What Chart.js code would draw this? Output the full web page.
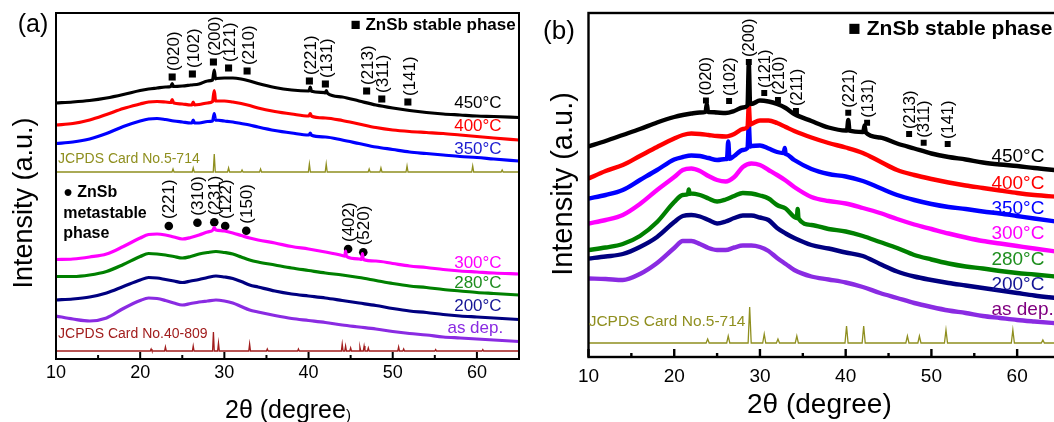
<!DOCTYPE html>
<html>
<head>
<meta charset="utf-8">
<title>ZnSb XRD patterns</title>
<script src="https://cdn.jsdelivr.net/npm/chart.js@4"></script>
<style>
  html, body { margin: 0; padding: 0; background: #fff; width: 1054px; height: 422px; overflow: hidden; }
  .panel { position: absolute; top: 0; }
  #wrapA { left: 0; }
  #wrapB { left: 530px; }
</style>
</head>
<body>
<div class="panel" id="wrapA"><canvas id="chartA" width="530" height="422"></canvas></div>
<div class="panel" id="wrapB"><canvas id="chartB" width="560" height="422"></canvas></div>
<script>
const FONT = "'Liberation Sans', Arial, Helvetica, sans-serif";

// shared 2theta grid (degree) the patterns were read on
const twoTheta = [10, 12, 14, 16, 18, 20, 21, 22, 23, 24, 25, 26, 27, 28, 29, 30, 31, 32, 33, 34,
                  36, 38, 40, 42, 44, 46, 48, 50, 52, 54, 56, 58, 60, 62, 65];
const xTicks = [10, 20, 30, 40, 50, 60];
const xMinor = [15, 25, 35, 45, 55, 65];

// ---- panel (a): intensity, stacked (a.u.) ----
const a450 = [256, 257, 258.5, 261, 264.5, 268.5, 270, 271, 272, 272.5, 273, 274, 275, 278, 280.5, 281, 281, 280, 278, 275.5,
              271.5, 269, 268, 266, 262, 258, 254, 251, 248.5, 246.5, 245, 244, 243, 242.5, 241.5];
const a450Peaks = [[23.65, 272.5], [23.8, 275.5], [23.95, 272.5], [28.6, 279], [28.8, 289], [28.95, 280],
                   [40.05, 268], [40.2, 272], [40.35, 267.8], [41.95, 266.4], [42.1, 268.5], [42.25, 265.8]];
const a400 = [234, 235.5, 239, 244.5, 250.5, 255, 257, 257.5, 257, 256, 255, 254, 254.5, 256, 258, 258, 257, 255.5, 253.5, 251,
              247.5, 245, 243, 241, 238.5, 235, 231.5, 229, 227.5, 226.5, 225.5, 224, 222.5, 221, 219];
const a400Peaks = [[23.65, 256.5], [23.8, 259.5], [23.95, 256.3], [26.15, 254], [26.3, 257], [26.45, 254.2],
                   [28.6, 257.5], [28.8, 268.5], [28.95, 258.2], [40.05, 243], [40.2, 245.5], [40.35, 242.8]];
const a350 = [215.5, 217, 220, 225.5, 232.5, 238, 240, 240.5, 239.5, 238, 237, 236, 236, 237.5, 239, 238, 237, 235.5, 234, 232,
              228.5, 226, 224, 222, 219, 215.5, 212, 209.5, 207, 205.5, 204, 202.5, 201.5, 200, 198];
const a350Peaks = [[26.15, 236], [26.3, 239], [26.45, 236], [28.6, 238], [28.8, 245.5], [28.95, 238.8],
                   [40.05, 224], [40.2, 226], [40.35, 223.8]];
const a300 = [99.5, 100, 102, 105, 112.5, 121, 124.5, 125, 124, 122, 120, 121.5, 124, 127, 129, 128, 126, 123.5, 121, 119,
              116, 112.5, 110, 107, 103.5, 100, 98, 95.5, 93, 91.5, 89.5, 88, 87, 86, 85];
const a300Peaks = [[28.65, 129], [28.8, 131.5], [28.95, 129.2], [44.3, 102.8], [44.4, 108], [44.5, 102.6],
                   [46.3, 99.7], [46.4, 105.5], [46.5, 99.6]];
const a280 = [82.5, 82.5, 84, 87.5, 94.5, 102.5, 105.5, 105, 104, 102.5, 101, 102.5, 105, 106.5, 107.5, 106.5, 105, 102, 99, 97,
              94, 91, 88.5, 86, 84, 81.5, 78.5, 75.5, 73, 71.5, 69.5, 68, 66.5, 65.5, 64];
const a200 = [59, 60, 62, 66, 72.5, 79, 81.5, 81, 79.5, 78, 76.5, 78, 79.5, 81.5, 83, 82, 80.5, 77.5, 74, 72,
              68, 65, 63, 61, 58.5, 56, 53.5, 50.5, 48, 46.5, 44.5, 43, 42, 41, 39.5];
const aAsDep = [43, 40, 38, 41, 50.5, 58.5, 61, 60.5, 58.5, 56, 54, 55.5, 57, 58, 59, 58, 56, 52.5, 49, 47,
                43.5, 40.5, 38.5, 36.5, 34, 32, 30, 27.5, 25.5, 24, 22, 21, 20, 19, 17.5];

// reference cards (peak position, stick height)
const card5714Pos = [23.9, 26.3, 28.8, 30.5, 32.1, 34.3, 40.1, 42.1, 47.2, 48.6, 51.7, 59.5, 63.0];
const card5714HA = [3, 4, 18, 4, 2, 3, 8, 8, 3, 4, 6, 6, 2];
const card5714BaseA = 187;
const card40809Pos = [21.3, 23.0, 26.3, 28.7, 29.3, 33.0, 35.1, 38.8, 44.0, 44.4, 45.0, 46.1, 46.6, 47.1, 50.7, 51.3, 55.1, 60.7];
const card40809H = [2, 4, 5, 19, 8, 7, 2, 2, 7, 5, 3, 4, 5, 3, 4, 2, 1.5, 1.5];
const card40809Base = 8;

// indexed reflections in (a)
const hklStableA = ['(020)', '(102)', '(200)', '(121)', '(210)', '(221)', '(131)', '(213)', '(311)', '(141)'];
const hklStablePosA = [23.8, 26.2, 28.7, 30.5, 32.7, 40.1, 42.0, 46.9, 48.7, 51.8];
const hklStableYA = [282, 285, 297, 291, 288, 278, 275, 268, 260, 257];
const hklMetaA = ['(221)', '(310)', '(231)', '(122)', '(150)', '(402)', '(520)'];
const hklMetaPosA = [23.4, 26.8, 28.8, 30.1, 32.6, 44.7, 46.5];
const hklMetaYA = [133, 136.3, 136.7, 133, 128.3, 110, 106.7];

// ---- panel (b) ----
const b450 = [210.5, 216, 222, 228, 234.5, 240, 242, 243.5, 244.5, 245, 244.5, 244, 246, 249.5, 253, 256.5, 255.5, 253, 249, 243,
              236, 229.5, 226.5, 225, 219.5, 213.5, 208.5, 203.5, 200, 197.5, 194.5, 192.5, 191, 189, 186.5];
const b450Peaks = [[23.65, 245], [23.8, 253], [23.95, 245], [28.55, 251.5], [28.7, 293.5], [28.85, 254],
                   [40.15, 226.5], [40.3, 237], [40.45, 226.3], [42.05, 225], [42.2, 231.5], [42.35, 224.5]];
const b400 = [178.5, 186, 192, 201, 210, 218.5, 222, 223.5, 223, 222, 221, 220.5, 223, 228, 233, 236.5, 236.5, 234, 230, 226,
              219.5, 214, 209.5, 204, 195.5, 187, 182, 178, 174.5, 171.5, 169, 166.5, 164, 162, 160];
const b400Peaks = [[28.55, 230], [28.7, 252], [28.85, 232.5]];
const b350 = [158.5, 162, 167, 177, 187, 197.5, 200, 201.5, 201, 199, 197, 198, 201, 207, 211, 211.5, 208.5, 205, 203, 197,
              188, 183, 180.5, 176, 169, 162, 157, 153, 150, 148, 145.5, 143.5, 141, 138.5, 135];
const b350Peaks = [[26.15, 198], [26.3, 215.5], [26.45, 198.2], [28.55, 209], [28.7, 233], [28.85, 210.5],
                   [32.75, 204], [32.9, 209], [33.05, 202.8]];
const b300 = [133.5, 137, 142, 153, 167, 180, 187, 188.5, 186, 181, 177, 175.5, 180, 190, 193.5, 192, 187, 182, 176.5, 170,
              160, 156, 153.5, 149, 144, 138, 132.5, 128, 123.5, 119.5, 116, 113.5, 111, 108.5, 105];
const b280 = [107, 109.5, 113, 121, 135, 155, 162, 163.5, 162, 158.5, 155.5, 157.5, 161, 164, 163.5, 161.5, 158.5, 152, 148.5, 140,
              132, 128, 125.5, 121, 115, 109, 102, 97.5, 93.5, 90.5, 88.5, 86, 84, 82.5, 80];
const b280Peaks = [[21.6, 163], [21.7, 167.5], [21.8, 163.2], [34.3, 139], [34.4, 148], [34.5, 138.4]];
const b200 = [98.5, 100.5, 103, 110, 120, 135, 141, 142, 140.5, 137, 133.5, 135.5, 139, 141.5, 141.5, 139.5, 137, 129, 123.5, 119,
              112, 108.5, 104.5, 101, 93, 85.5, 80.5, 77, 74, 71.5, 69, 66.5, 64, 61.5, 58.5];
const bAsDep = [78.5, 78, 77, 83, 94, 109, 116, 116, 113, 109, 107, 107, 109.5, 111.5, 111.5, 110, 106, 99, 93, 87,
                80.5, 77.5, 74.5, 70, 64, 59, 54, 50, 46.5, 44, 41, 39, 37, 35.5, 33.5];
const card5714HB = [4, 7, 36, 9, 4, 7, 17, 17, 7, 7, 13, 13, 3];
const card5714BaseB = 14;

const hklStableB = ['(020)', '(102)', '(200)', '(121)', '(210)', '(211)', '(221)', '(131)', '(213)', '(311)', '(141)'];
const hklStablePosB = [23.7, 26.4, 28.7, 30.5, 32.1, 34.2, 40.3, 42.5, 47.4, 49.1, 51.9];
const hklStableYB = [256.5, 256, 295, 264, 257, 246, 244.3, 234.3, 223, 214.3, 213];

const seriesLabels = ['450°C', '400°C', '350°C', '300°C', '280°C', '200°C', 'as dep.'];

// ---- styling ----
const lineColors = ['#000000', '#ff0000', '#0000ff', '#ff00ff', '#008000', '#000080', '#8a2be2'];
const OLIVE = '#8f8f1f';
const DARKRED = '#a11d1d';

function pattern(values, peaks) {
  const pts = twoTheta.map((x, i) => ({ x: x, y: values[i] }));
  (peaks || []).forEach(p => pts.push({ x: p[0], y: p[1] }));
  return pts.sort((p, q) => p.x - q.x);
}

function sticks(pos, heights, base, w) {
  const pts = [{ x: 10, y: base }];
  pos.forEach((p, i) => {
    pts.push({ x: p - w, y: base }, { x: p, y: base + heights[i] }, { x: p + w, y: base });
  });
  pts.push({ x: 65, y: base });
  return pts;
}

function curve(data, color, width) {
  return { data: data, borderColor: color, borderWidth: width, pointRadius: 0, fill: false,
           cubicInterpolationMode: 'monotone' };
}

function stickSet(data, color) {
  return { data: data, borderColor: color, borderWidth: 1.3, pointRadius: 0, fill: false, tension: 0 };
}

function markers(pos, ys, style, r) {
  return { type: 'scatter', data: pos.map((x, i) => ({ x: x, y: ys[i] })), pointStyle: style,
           pointRadius: r, pointHoverRadius: r, backgroundColor: '#000', borderWidth: 0, showLine: false };
}

// axes, frame, inward ticks and all the text of a panel
const xrdDecor = {
  id: 'xrdDecor',
  afterDatasetsDraw(chart, args, o) {
    const ctx = chart.ctx, a = chart.chartArea;
    const sx = chart.scales.x, sy = chart.scales.y;
    ctx.save();
    ctx.strokeStyle = '#000';
    ctx.lineWidth = o.frame;
    ctx.strokeRect(a.left, a.top, a.right - a.left, a.bottom - a.top);
    ctx.beginPath();
    xTicks.forEach(v => { const p = sx.getPixelForValue(v); ctx.moveTo(p, a.bottom); ctx.lineTo(p, a.bottom - o.major); });
    xMinor.forEach(v => { const p = sx.getPixelForValue(v); ctx.moveTo(p, a.bottom); ctx.lineTo(p, a.bottom - o.minor); });
    ctx.stroke();

    // rotated reflection labels sitting on the markers
    o.hkl.forEach(h => {
      ctx.font = h.font;
      ctx.fillStyle = '#000';
      ctx.textAlign = 'left';
      ctx.textBaseline = 'middle';
      h.labels.forEach((t, i) => {
        ctx.save();
        ctx.translate(sx.getPixelForValue(h.pos[i]) + h.dx, sy.getPixelForValue(h.ys[i]) - h.gap);
        ctx.rotate(-Math.PI / 2);
        ctx.fillText(t, 0, 0);
        ctx.restore();
      });
    });

    let lastEnd = 0;
    o.texts.forEach(t => {
      let px = t.cx !== undefined ? t.cx : sx.getPixelForValue(t.x);
      const py = t.cy !== undefined ? t.cy : sy.getPixelForValue(t.y);
      if (t.follow) px = lastEnd;
      ctx.save();
      ctx.font = t.font;
      ctx.fillStyle = t.color || '#000';
      ctx.textAlign = t.align || 'left';
      ctx.textBaseline = t.base || 'middle';
      ctx.translate(px, py);
      if (t.rot) ctx.rotate(-Math.PI / 2);
      ctx.fillText(t.t, 0, 0);
      lastEnd = px + ctx.measureText(t.t).width;
      ctx.restore();
    });
    ctx.restore();
  }
};

function makeChart(id, datasets, geom, decor) {
  return new Chart(document.getElementById(id), {
    type: 'line',
    data: { datasets: datasets },
    plugins: [xrdDecor],
    options: {
      responsive: false,
      animation: false,
      devicePixelRatio: 1,
      layout: { padding: { left: geom.left, right: geom.right, top: geom.top, bottom: 0 } },
      scales: {
        x: {
          type: 'linear', min: 10, max: 65,
          afterBuildTicks: s => { s.ticks = xTicks.map(v => ({ value: v })); },
          afterFit: s => { s.height = geom.axisH; },
          ticks: { color: '#000', font: { family: FONT, size: geom.tickSize }, padding: geom.tickPad, maxRotation: 0 },
          grid: { display: false, drawTicks: false },
          border: { display: false }
        },
        y: { display: false, min: 0, max: geom.yMax }
      },
      plugins: { legend: { display: false }, tooltip: { enabled: false }, xrdDecor: decor }
    }
  });
}

function f(size, bold) { return (bold ? 'bold ' : '') + size + 'px ' + FONT; }

// ---------- panel (a) ----------
const tempXA = [57.3, 57.3, 57.3, 57.3, 57.3, 57.3, 56.5];
const tempYA = [256, 232.3, 209.7, 95.7, 75.7, 53, 30.7];
const tempTextColorsA = ['#000000', '#ff0000', '#1c1cd0', '#ff00ff', '#1f8f1f', '#141496', '#8a2be2'];
const textsA = [
  { t: '(a)', cx: 33, cy: 25, font: f(25), align: 'center' },
  { t: '■ ZnSb stable phase', x: 64.6, y: 334, font: f(17, true), align: 'right' },
  { t: '● ZnSb', x: 10.85, y: 166.3, font: f(16, true) },
  { t: 'metastable', x: 10.85, y: 145.7, font: f(16, true) },
  { t: 'phase', x: 10.85, y: 125.7, font: f(16, true) },
  { t: 'JCPDS Card No.5-714', x: 10.25, y: 200, font: f(14), color: OLIVE },
  { t: 'JCPDS Card No.40-809', x: 10.25, y: 25, font: f(14), color: DARKRED },
  { t: 'Intensity (a.u.)', cx: 25, cy: 203, font: f(27), align: 'center', rot: true },
  { t: '2θ (degree', cx: 225, cy: 418, font: f(25), base: 'alphabetic' },
  { t: ')', follow: true, cy: 420, font: f(15), base: 'alphabetic' }
].concat(seriesLabels.map((t, i) => ({ t: t, x: tempXA[i], y: tempYA[i], font: f(17), color: tempTextColorsA[i] })));

makeChart('chartA', [
  curve(pattern(a450, a450Peaks), lineColors[0], 3.2),
  curve(pattern(a400, a400Peaks), lineColors[1], 3.2),
  curve(pattern(a350, a350Peaks), lineColors[2], 3.2),
  curve(pattern(a300, a300Peaks), lineColors[3], 3.2),
  curve(pattern(a280), lineColors[4], 3.2),
  curve(pattern(a200), lineColors[5], 3.2),
  curve(pattern(aAsDep), lineColors[6], 3.2),
  stickSet(sticks(card5714Pos, card5714HA, card5714BaseA, 0.12), OLIVE),
  stickSet(sticks(card40809Pos, card40809H, card40809Base, 0.1), DARKRED),
  markers(hklStablePosA, hklStableYA, 'rect', 5),
  markers(hklMetaPosA, hklMetaYA, 'circle', 4.3)
], { left: 56, right: 11, top: 13, axisH: 63, yMax: 346, tickSize: 18, tickPad: 3 }, {
  frame: 2, major: 7, minor: 4,
  hkl: [
    { labels: hklStableA, pos: hklStablePosA, ys: hklStableYA, font: f(17), dx: 2, gap: 6 },
    { labels: hklMetaA, pos: hklMetaPosA, ys: hklMetaYA, font: f(17), dx: 1, gap: 7 }
  ],
  texts: textsA
});

// ---------- panel (b) ----------
const tempYB = [200.3, 173, 148.7, 123.7, 97, 72, 47];
const tempTextColorsB = ['#000000', '#ff0000', '#0000ff', '#ff00ff', '#1f8f1f', '#141496', '#800080'];
const textsB = [
  { t: '(b)', cx: 29, cy: 32, font: f(26), align: 'center' },
  { t: '■ ZnSb stable phase', x: 40.3, y: 328, font: f(21, true) },
  { t: 'JCPDS Card No.5-714', x: 10.02, y: 35.3, font: f(15.5), color: OLIVE },
  { t: 'Intensity (a.u.)', cx: 34, cy: 184, font: f(29), align: 'center', rot: true },
  { t: '2θ (degree)', cx: 217, cy: 413, font: f(28), base: 'alphabetic' }
].concat(seriesLabels.map((t, i) => ({ t: t, x: 57.0, y: tempYB[i], font: f(19), color: tempTextColorsB[i] })));

makeChart('chartB', [
  curve(pattern(b450, b450Peaks), lineColors[0], 4.4),
  curve(pattern(b400, b400Peaks), lineColors[1], 4.4),
  curve(pattern(b350, b350Peaks), lineColors[2], 4.4),
  curve(pattern(b300), lineColors[3], 4.4),
  curve(pattern(b280, b280Peaks), lineColors[4], 4.4),
  curve(pattern(b200), lineColors[5], 4.4),
  curve(pattern(bAsDep), lineColors[6], 4.4),
  stickSet(sticks(card5714Pos, card5714HB, card5714BaseB, 0.18), OLIVE),
  markers(hklStablePosB, hklStableYB, 'rect', 4.2)
], { left: 58.5, right: 30, top: 13, axisH: 65, yMax: 344, tickSize: 19, tickPad: 8 }, {
  frame: 2.4, major: 8, minor: 4,
  hkl: [
    { labels: hklStableB, pos: hklStablePosB, ys: hklStableYB, font: f(16.5), dx: 1, gap: 5 }
  ],
  texts: textsB
});
</script>
</body>
</html>
